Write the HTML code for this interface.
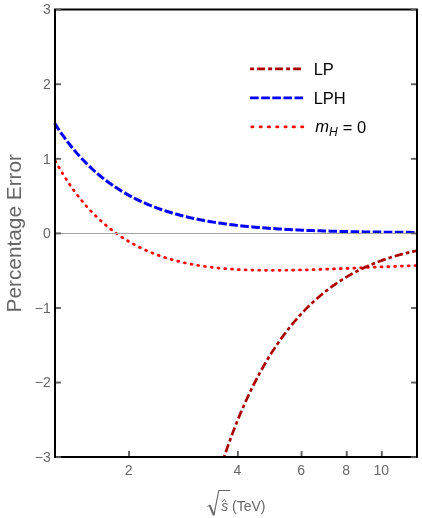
<!DOCTYPE html>
<html><head><meta charset="utf-8"><title>chart</title>
<style>html,body{margin:0;padding:0;background:#fff}body{width:422px;height:518px;overflow:hidden;position:relative;font-family:"Liberation Sans",sans-serif}</style></head>
<body>
<svg width="422" height="518" viewBox="0 0 422 518" style="position:absolute;left:0;top:0;will-change:transform;font-family:'Liberation Sans',sans-serif">
<clipPath id="c"><rect x="52.0" y="9.5" width="365.0" height="447.5"/></clipPath>
<g clip-path="url(#c)" fill="none">
<path d="M54.20,158.83 L56.81,163.61 L59.42,168.20 L62.03,172.60 L64.64,176.82 L67.25,180.87 L69.86,184.76 L72.47,188.50 L75.08,192.09 L77.69,195.54 L80.30,198.86 L82.91,202.04 L85.52,205.10 L88.13,208.04 L90.74,210.87 L93.35,213.58 L95.96,216.19 L98.57,218.70 L101.18,221.11 L103.79,223.43 L106.40,225.65 L109.01,227.79 L111.62,229.85 L114.23,231.82 L116.84,233.72 L119.45,235.54 L122.06,237.28 L124.67,238.96 L127.28,240.57 L129.89,242.12 L132.50,243.60 L135.11,245.02 L137.72,246.38 L140.33,247.68 L142.94,248.94 L145.55,250.13 L148.16,251.28 L150.77,252.38 L153.38,253.42 L155.99,254.43 L158.60,255.39 L161.21,256.30 L163.82,257.17 L166.43,258.01 L169.04,258.80 L171.65,259.56 L174.26,260.28 L176.87,260.97 L179.48,261.62 L182.09,262.24 L184.70,262.83 L187.31,263.39 L189.92,263.92 L192.53,264.42 L195.14,264.89 L197.75,265.34 L200.36,265.76 L202.97,266.16 L205.58,266.53 L208.19,266.88 L210.80,267.21 L213.41,267.52 L216.02,267.81 L218.63,268.07 L221.24,268.32 L223.85,268.56 L226.46,268.77 L229.07,268.97 L231.68,269.15 L234.29,269.32 L236.91,269.47 L239.52,269.61 L242.13,269.73 L244.74,269.84 L247.35,269.94 L249.96,270.03 L252.57,270.10 L255.18,270.17 L257.79,270.22 L260.40,270.26 L263.01,270.30 L265.62,270.32 L268.23,270.34 L270.84,270.35 L273.45,270.35 L276.06,270.34 L278.67,270.33 L281.28,270.31 L283.89,270.28 L286.50,270.24 L289.11,270.20 L291.72,270.16 L294.33,270.11 L296.94,270.05 L299.55,269.99 L302.16,269.93 L304.77,269.86 L307.38,269.79 L309.99,269.71 L312.60,269.64 L315.21,269.55 L317.82,269.47 L320.43,269.38 L323.04,269.29 L325.65,269.20 L328.26,269.10 L330.87,269.00 L333.48,268.90 L336.09,268.80 L338.70,268.70 L341.31,268.60 L343.92,268.49 L346.53,268.39 L349.14,268.28 L351.75,268.17 L354.36,268.06 L356.97,267.96 L359.58,267.85 L362.19,267.74 L364.80,267.63 L367.41,267.52 L370.02,267.40 L372.63,267.29 L375.24,267.18 L377.85,267.07 L380.46,266.96 L383.07,266.85 L385.68,266.74 L388.29,266.63 L390.90,266.52 L393.51,266.42 L396.12,266.31 L398.73,266.20 L401.34,266.09 L403.95,265.99 L406.56,265.88 L409.17,265.78 L411.78,265.68 L414.39,265.57 L417.00,265.47" stroke="#ff0000" stroke-width="2.7" stroke-dasharray="1.0 5.8" stroke-linecap="round" stroke-dashoffset="4.26"/>
<path d="M54.20,122.61 L56.81,126.66 L59.42,130.56 L62.03,134.31 L64.64,137.93 L67.25,141.42 L69.86,144.78 L72.47,148.02 L75.08,151.14 L77.69,154.14 L80.30,157.04 L82.91,159.83 L85.52,162.52 L88.13,165.11 L90.74,167.61 L93.35,170.02 L95.96,172.34 L98.57,174.57 L101.18,176.72 L103.79,178.80 L106.40,180.80 L109.01,182.73 L111.62,184.59 L114.23,186.38 L116.84,188.10 L119.45,189.77 L122.06,191.37 L124.67,192.91 L127.28,194.40 L129.89,195.83 L132.50,197.22 L135.11,198.55 L137.72,199.83 L140.33,201.07 L142.94,202.26 L145.55,203.41 L148.16,204.51 L150.77,205.58 L153.38,206.60 L155.99,207.59 L158.60,208.55 L161.21,209.46 L163.82,210.35 L166.43,211.20 L169.04,212.02 L171.65,212.81 L174.26,213.57 L176.87,214.31 L179.48,215.01 L182.09,215.69 L184.70,216.35 L187.31,216.98 L189.92,217.59 L192.53,218.17 L195.14,218.74 L197.75,219.28 L200.36,219.80 L202.97,220.31 L205.58,220.79 L208.19,221.26 L210.80,221.71 L213.41,222.14 L216.02,222.56 L218.63,222.96 L221.24,223.34 L223.85,223.71 L226.46,224.07 L229.07,224.42 L231.68,224.75 L234.29,225.06 L236.91,225.37 L239.52,225.67 L242.13,225.95 L244.74,226.22 L247.35,226.48 L249.96,226.74 L252.57,226.98 L255.18,227.21 L257.79,227.44 L260.40,227.65 L263.01,227.86 L265.62,228.06 L268.23,228.25 L270.84,228.44 L273.45,228.62 L276.06,228.79 L278.67,228.95 L281.28,229.11 L283.89,229.26 L286.50,229.41 L289.11,229.55 L291.72,229.68 L294.33,229.81 L296.94,229.93 L299.55,230.05 L302.16,230.17 L304.77,230.28 L307.38,230.38 L309.99,230.48 L312.60,230.58 L315.21,230.68 L317.82,230.76 L320.43,230.85 L323.04,230.93 L325.65,231.01 L328.26,231.09 L330.87,231.16 L333.48,231.23 L336.09,231.30 L338.70,231.36 L341.31,231.42 L343.92,231.48 L346.53,231.54 L349.14,231.60 L351.75,231.65 L354.36,231.70 L356.97,231.75 L359.58,231.79 L362.19,231.84 L364.80,231.88 L367.41,231.92 L370.02,231.96 L372.63,231.99 L375.24,232.03 L377.85,232.06 L380.46,232.09 L383.07,232.13 L385.68,232.15 L388.29,232.18 L390.90,232.21 L393.51,232.24 L396.12,232.26 L398.73,232.28 L401.34,232.31 L403.95,232.33 L406.56,232.35 L409.17,232.37 L411.78,232.39 L414.39,232.41 L417.00,232.42" stroke="#0000ff" stroke-width="3.0" stroke-dasharray="8.55 2.5" stroke-dashoffset="10.42"/>
<path d="M218.00,476.14 L219.43,471.50 L220.86,466.97 L222.29,462.53 L223.73,458.18 L225.16,453.92 L226.59,449.75 L228.02,445.66 L229.45,441.65 L230.88,437.73 L232.32,433.88 L233.75,430.11 L235.18,426.42 L236.61,422.79 L238.04,419.24 L239.47,415.76 L240.91,412.34 L242.34,409.00 L243.77,405.71 L245.20,402.49 L246.63,399.33 L248.06,396.23 L249.50,393.19 L250.93,390.21 L252.36,387.28 L253.79,384.41 L255.22,381.59 L256.65,378.82 L258.09,376.11 L259.52,373.44 L260.95,370.83 L262.38,368.26 L263.81,365.74 L265.24,363.27 L266.68,360.84 L268.11,358.46 L269.54,356.12 L270.97,353.82 L272.40,351.57 L273.83,349.36 L275.27,347.18 L276.70,345.05 L278.13,342.95 L279.56,340.90 L280.99,338.88 L282.42,336.89 L283.86,334.94 L285.29,333.03 L286.72,331.15 L288.15,329.31 L289.58,327.50 L291.01,325.72 L292.45,323.98 L293.88,322.26 L295.31,320.58 L296.74,318.93 L298.17,317.31 L299.60,315.71 L301.04,314.15 L302.47,312.61 L303.90,311.11 L305.33,309.63 L306.76,308.17 L308.19,306.75 L309.63,305.35 L311.06,303.97 L312.49,302.62 L313.92,301.30 L315.35,299.99 L316.78,298.72 L318.22,297.46 L319.65,296.23 L321.08,295.03 L322.51,293.84 L323.94,292.68 L325.37,291.54 L326.81,290.42 L328.24,289.32 L329.67,288.24 L331.10,287.18 L332.53,286.14 L333.96,285.13 L335.40,284.13 L336.83,283.15 L338.26,282.18 L339.69,281.24 L341.12,280.32 L342.55,279.41 L343.99,278.52 L345.42,277.64 L346.85,276.79 L348.28,275.95 L349.71,275.13 L351.14,274.32 L352.58,273.53 L354.01,272.75 L355.44,271.99 L356.87,271.25 L358.30,270.52 L359.73,269.80 L361.17,269.10 L362.60,268.41 L364.03,267.74 L365.46,267.08 L366.89,266.43 L368.32,265.80 L369.76,265.17 L371.19,264.57 L372.62,263.97 L374.05,263.39 L375.48,262.82 L376.91,262.26 L378.35,261.71 L379.78,261.17 L381.21,260.65 L382.64,260.13 L384.07,259.63 L385.50,259.14 L386.94,258.66 L388.37,258.19 L389.80,257.73 L391.23,257.27 L392.66,256.83 L394.09,256.40 L395.53,255.98 L396.96,255.57 L398.39,255.16 L399.82,254.77 L401.25,254.38 L402.68,254.01 L404.12,253.64 L405.55,253.28 L406.98,252.92 L408.41,252.58 L409.84,252.25 L411.27,251.92 L412.71,251.60 L414.14,251.28 L415.57,250.98 L417.00,250.68" stroke="#aa0000" stroke-width="2.7" stroke-dasharray="3.6 3.0 8.4 3.0" stroke-dashoffset="17.43"/>
</g>
<line x1="55.0" x2="417.0" y1="233.5" y2="233.5" stroke="#a3a3a3" stroke-width="1"/>
<rect x="55.0" y="9.5" width="362.0" height="447.5" fill="none" stroke="#000" stroke-width="2"/>
<line x1="56.0" x2="60.9" y1="457.14" y2="457.14" stroke="#5e5e5e" stroke-width="1.9"/>
<line x1="416.0" x2="411.1" y1="457.14" y2="457.14" stroke="#5e5e5e" stroke-width="1.9"/>
<text x="50.7" y="461.84" font-size="14" fill="#666" text-anchor="end">−3</text>
<line x1="56.0" x2="60.9" y1="382.56" y2="382.56" stroke="#5e5e5e" stroke-width="1.9"/>
<line x1="416.0" x2="411.1" y1="382.56" y2="382.56" stroke="#5e5e5e" stroke-width="1.9"/>
<text x="50.7" y="387.26" font-size="14" fill="#666" text-anchor="end">−2</text>
<line x1="56.0" x2="60.9" y1="307.98" y2="307.98" stroke="#5e5e5e" stroke-width="1.9"/>
<line x1="416.0" x2="411.1" y1="307.98" y2="307.98" stroke="#5e5e5e" stroke-width="1.9"/>
<text x="50.7" y="312.68" font-size="14" fill="#666" text-anchor="end">−1</text>
<line x1="56.0" x2="60.9" y1="233.40" y2="233.40" stroke="#5e5e5e" stroke-width="1.9"/>
<line x1="416.0" x2="411.1" y1="233.40" y2="233.40" stroke="#5e5e5e" stroke-width="1.9"/>
<text x="50.7" y="238.10" font-size="14" fill="#666" text-anchor="end">0</text>
<line x1="56.0" x2="60.9" y1="158.82" y2="158.82" stroke="#5e5e5e" stroke-width="1.9"/>
<line x1="416.0" x2="411.1" y1="158.82" y2="158.82" stroke="#5e5e5e" stroke-width="1.9"/>
<text x="50.7" y="163.52" font-size="14" fill="#666" text-anchor="end">1</text>
<line x1="56.0" x2="60.9" y1="84.24" y2="84.24" stroke="#5e5e5e" stroke-width="1.9"/>
<line x1="416.0" x2="411.1" y1="84.24" y2="84.24" stroke="#5e5e5e" stroke-width="1.9"/>
<text x="50.7" y="88.94" font-size="14" fill="#666" text-anchor="end">2</text>
<line x1="56.0" x2="60.9" y1="9.66" y2="9.66" stroke="#5e5e5e" stroke-width="1.9"/>
<line x1="416.0" x2="411.1" y1="9.66" y2="9.66" stroke="#5e5e5e" stroke-width="1.9"/>
<text x="50.7" y="14.36" font-size="14" fill="#666" text-anchor="end">3</text>
<line x1="129.05" x2="129.05" y1="456.0" y2="451.1" stroke="#5e5e5e" stroke-width="1.9"/>
<text x="128.55" y="474.9" font-size="14" fill="#666" text-anchor="middle">2</text>
<line x1="237.90" x2="237.90" y1="456.0" y2="451.1" stroke="#5e5e5e" stroke-width="1.9"/>
<text x="237.40" y="474.9" font-size="14" fill="#666" text-anchor="middle">4</text>
<line x1="301.58" x2="301.58" y1="456.0" y2="451.1" stroke="#5e5e5e" stroke-width="1.9"/>
<text x="301.08" y="474.9" font-size="14" fill="#666" text-anchor="middle">6</text>
<line x1="346.75" x2="346.75" y1="456.0" y2="451.1" stroke="#5e5e5e" stroke-width="1.9"/>
<text x="346.25" y="474.9" font-size="14" fill="#666" text-anchor="middle">8</text>
<line x1="381.80" x2="381.80" y1="456.0" y2="451.1" stroke="#5e5e5e" stroke-width="1.9"/>
<text x="381.30" y="474.9" font-size="14" fill="#666" text-anchor="middle">10</text>
<text transform="translate(20.7,233.2) rotate(-90)" font-size="20.8" fill="#666" text-anchor="middle">Percentage Error</text>
<g fill="#666" font-size="14">
<path d="M207.4,506.7 L209.5,505.1" stroke="#666" stroke-width="1" fill="none"/>
<path d="M209.6,505.1 L213.7,515.0" stroke="#666" stroke-width="2" fill="none"/>
<path d="M213.8,515.6 L218.8,490.5 L230.1,490.5" stroke="#666" stroke-width="1.15" fill="none"/>
<text x="221.2" y="510.5" font-style="italic">s</text>
<path d="M222.4,502 L224.3,499.3 L226.1,502" stroke="#666" stroke-width="0.9" fill="none"/>
<text x="232.0" y="510.5">(TeV)</text>
</g>
<g fill="none">
<line x1="250.1" x2="301" y1="68.9" y2="68.9" stroke="#aa0000" stroke-width="2.6" stroke-dasharray="4 3 8 3"/>
<line x1="250.1" x2="303.2" y1="97.85" y2="97.85" stroke="#0000ff" stroke-width="2.8" stroke-dasharray="8.6 2.5"/>
<line x1="251.8" x2="303.7" y1="126.9" y2="126.9" stroke="#ff0000" stroke-width="2.8" stroke-dasharray="1.2 7.1" stroke-linecap="round"/>
</g>
<g fill="#000" font-size="16.5">
<text x="313.7" y="75">LP</text>
<text x="313.7" y="103.6">LPH</text>
<text x="315.2" y="132.3"><tspan font-style="italic">m</tspan><tspan font-style="italic" font-size="12" dy="3.5">H</tspan><tspan dy="-3.0" dx="0.6"> = 0</tspan></text>
</g>
</svg>
</body></html>
